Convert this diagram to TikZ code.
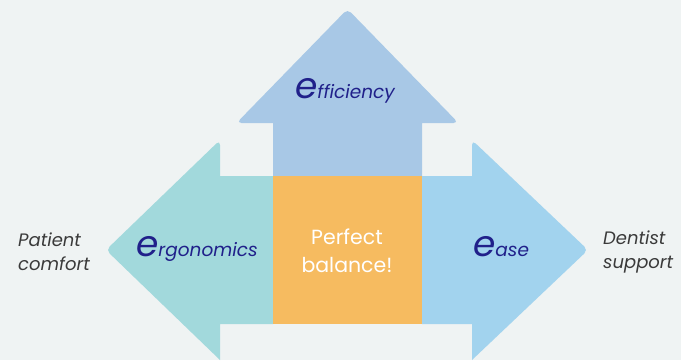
\documentclass[tikz,border=0pt]{standalone}
\usepackage{fontspec}
\setmainfont{Poppins}
\definecolor{bgc}{HTML}{EFF3F3}
\definecolor{upc}{HTML}{A8C8E6}
\definecolor{leftc}{HTML}{A2D9DC}
\definecolor{rightc}{HTML}{A2D3EE}
\definecolor{midc}{HTML}{F6BB60}
\definecolor{navy}{HTML}{20208A}
\definecolor{sidec}{HTML}{3A3A3A}
\tikzset{
  elabel/.style={text=navy, inner sep=0pt, font=\itshape},
  sidelabel/.style={text=sidec, align=left, inner sep=0pt, font=\itshape\fontsize{18}{24}\selectfont},
  midlabel/.style={text=white, align=center, inner sep=0pt, font=\fontsize{20.5}{28}\selectfont}
}
\newcommand{\bige}{{\fontsize{36}{36}\selectfont e}}
\newcommand{\smallw}[1]{{\fontsize{18.5}{18.5}\selectfont #1}}
\begin{document}
\begin{tikzpicture}[x=1pt,y=-1pt]
\useasboundingbox (0,0) rectangle (681,360);
\fill[bgc] (0,0) rectangle (681,360);
% up arrow
\fill[upc] (273,176) -- (273,123) [rounded corners=5pt] -- (236.5,123) -- (347.5,9) -- (458.5,123) [sharp corners] -- (422,123) -- (422,176) -- cycle;
% left arrow
\fill[leftc] (273,176) -- (220,176) [rounded corners=5pt] -- (220,140) -- (106,250) [sharp corners] -- (220,360) -- (220,324) -- (273,324) -- cycle;
% right arrow
\fill[rightc] (422,176) -- (472,176) [rounded corners=5pt] -- (472,140) -- (588,250) [sharp corners] -- (472,360) -- (472,324) -- (422,324) -- cycle;
% centre square
\fill[midc] (273,176) rectangle (422,324);
% labels
\node[elabel, anchor=base] (eff) at (345,98) {\bige\smallw{fficiency}};
\node[elabel, anchor=base] (erg) at (197,256) {\bige\smallw{rgonomics}};
\node[elabel, anchor=base] (eas) at (501,256) {\bige\smallw{ase}};
\node[midlabel] (bal) at (347,251) {Perfect\\balance!};
\node[sidelabel, anchor=west] (pat) at (18,252) {Patient\\comfort};
\node[sidelabel, anchor=west] (den) at (603,252) {Dentist\\support};
\end{tikzpicture}
\end{document}
